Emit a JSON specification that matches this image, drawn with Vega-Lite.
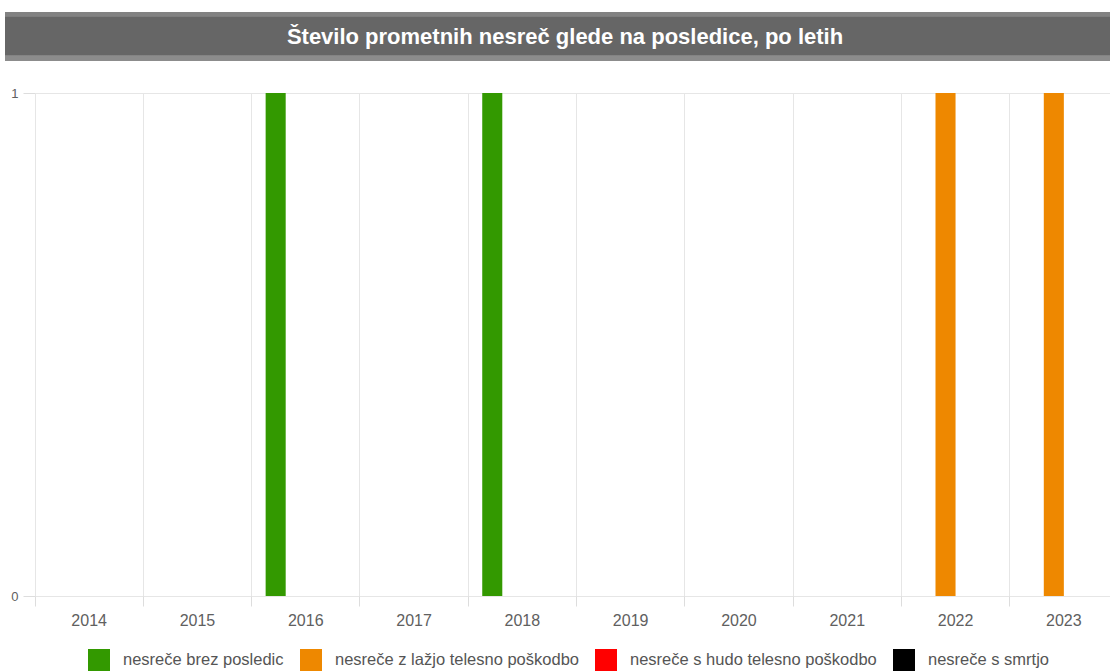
{
  "$schema": "https://vega.github.io/schema/vega-lite/v6.json",
  "padding": {"left": 5, "top": 12, "right": 0, "bottom": 0},
  "background": "white",
  "spacing": 26,
  "config": {"view": {"stroke": null}, "font": "Liberation Sans"},
  "vconcat": [
    {
      "width": 1120,
      "height": 49,
      "data": {"values": [{"t": "Število prometnih nesreč glede na posledice, po letih"}]},
      "layer": [
        {
          "mark": {
            "type": "rect",
            "color": {
              "gradient": "linear",
              "x1": 0, "y1": 0, "x2": 0, "y2": 1,
              "stops": [
                {"offset": 0, "color": "#828282"},
                {"offset": 0.09, "color": "#828282"},
                {"offset": 0.1, "color": "#666666"},
                {"offset": 0.88, "color": "#666666"},
                {"offset": 0.89, "color": "#8c8c8c"},
                {"offset": 1, "color": "#8c8c8c"}
              ]
            }
          },
          "encoding": {}
        },
        {
          "mark": {"type": "text", "color": "white", "fontSize": 22, "fontWeight": "bold", "font": "Liberation Sans", "baseline": "middle", "align": "center"},
          "encoding": {"text": {"field": "t"}}
        }
      ]
    },
    {
      "spacing": 4,
      "hconcat": [
        {
          "width": 1,
          "height": 1,
          "data": {"values": []},
          "mark": "point"
        },
        {
          "width": 1083,
          "height": 503,
          "data": {
            "values": [
              {"leto": "2014", "posledica": "nesreče brez posledic", "stevilo": 0},
              {"leto": "2014", "posledica": "nesreče z lažjo telesno poškodbo", "stevilo": 0},
              {"leto": "2014", "posledica": "nesreče s hudo telesno poškodbo", "stevilo": 0},
              {"leto": "2014", "posledica": "nesreče s smrtjo", "stevilo": 0},
              {"leto": "2015", "posledica": "nesreče brez posledic", "stevilo": 0},
              {"leto": "2015", "posledica": "nesreče z lažjo telesno poškodbo", "stevilo": 0},
              {"leto": "2015", "posledica": "nesreče s hudo telesno poškodbo", "stevilo": 0},
              {"leto": "2015", "posledica": "nesreče s smrtjo", "stevilo": 0},
              {"leto": "2016", "posledica": "nesreče brez posledic", "stevilo": 1},
              {"leto": "2016", "posledica": "nesreče z lažjo telesno poškodbo", "stevilo": 0},
              {"leto": "2016", "posledica": "nesreče s hudo telesno poškodbo", "stevilo": 0},
              {"leto": "2016", "posledica": "nesreče s smrtjo", "stevilo": 0},
              {"leto": "2017", "posledica": "nesreče brez posledic", "stevilo": 0},
              {"leto": "2017", "posledica": "nesreče z lažjo telesno poškodbo", "stevilo": 0},
              {"leto": "2017", "posledica": "nesreče s hudo telesno poškodbo", "stevilo": 0},
              {"leto": "2017", "posledica": "nesreče s smrtjo", "stevilo": 0},
              {"leto": "2018", "posledica": "nesreče brez posledic", "stevilo": 1},
              {"leto": "2018", "posledica": "nesreče z lažjo telesno poškodbo", "stevilo": 0},
              {"leto": "2018", "posledica": "nesreče s hudo telesno poškodbo", "stevilo": 0},
              {"leto": "2018", "posledica": "nesreče s smrtjo", "stevilo": 0},
              {"leto": "2019", "posledica": "nesreče brez posledic", "stevilo": 0},
              {"leto": "2019", "posledica": "nesreče z lažjo telesno poškodbo", "stevilo": 0},
              {"leto": "2019", "posledica": "nesreče s hudo telesno poškodbo", "stevilo": 0},
              {"leto": "2019", "posledica": "nesreče s smrtjo", "stevilo": 0},
              {"leto": "2020", "posledica": "nesreče brez posledic", "stevilo": 0},
              {"leto": "2020", "posledica": "nesreče z lažjo telesno poškodbo", "stevilo": 0},
              {"leto": "2020", "posledica": "nesreče s hudo telesno poškodbo", "stevilo": 0},
              {"leto": "2020", "posledica": "nesreče s smrtjo", "stevilo": 0},
              {"leto": "2021", "posledica": "nesreče brez posledic", "stevilo": 0},
              {"leto": "2021", "posledica": "nesreče z lažjo telesno poškodbo", "stevilo": 0},
              {"leto": "2021", "posledica": "nesreče s hudo telesno poškodbo", "stevilo": 0},
              {"leto": "2021", "posledica": "nesreče s smrtjo", "stevilo": 0},
              {"leto": "2022", "posledica": "nesreče brez posledic", "stevilo": 0},
              {"leto": "2022", "posledica": "nesreče z lažjo telesno poškodbo", "stevilo": 1},
              {"leto": "2022", "posledica": "nesreče s hudo telesno poškodbo", "stevilo": 0},
              {"leto": "2022", "posledica": "nesreče s smrtjo", "stevilo": 0},
              {"leto": "2023", "posledica": "nesreče brez posledic", "stevilo": 0},
              {"leto": "2023", "posledica": "nesreče z lažjo telesno poškodbo", "stevilo": 1},
              {"leto": "2023", "posledica": "nesreče s hudo telesno poškodbo", "stevilo": 0},
              {"leto": "2023", "posledica": "nesreče s smrtjo", "stevilo": 0}
            ]
          },
          "mark": {"type": "bar"},
          "encoding": {
            "x": {
              "field": "leto",
              "type": "ordinal",
              "scale": {"paddingInner": 0, "paddingOuter": 0},
              "axis": {
                "title": null,
                "domain": false,
                "grid": true,
                "gridColor": "#e6e6e6",
                "bandPosition": 0,
                "ticks": true,
                "tickColor": "#dddddd",
                "tickSize": 10,
                "labelAngle": 0,
                "labelFontSize": 16,
                "labelColor": "#606060",
                "labelPadding": 6
              }
            },
            "xOffset": {
              "field": "posledica",
              "type": "nominal",
              "scale": {
                "domain": ["nesreče brez posledic", "nesreče z lažjo telesno poškodbo", "nesreče s hudo telesno poškodbo", "nesreče s smrtjo"],
                "paddingInner": 0,
                "paddingOuter": 0.7
              }
            },
            "y": {
              "field": "stevilo",
              "type": "quantitative",
              "scale": {"domain": [0, 1], "nice": false},
              "axis": {
                "title": null,
                "values": [0, 1],
                "format": "d",
                "domain": false,
                "grid": true,
                "gridColor": "#e6e6e6",
                "tickColor": "#dddddd",
                "tickSize": 12,
                "labelPadding": 5,
                "labelFontSize": 13,
                "labelColor": "#606060"
              }
            },
            "color": {
              "field": "posledica",
              "type": "nominal",
              "scale": {
                "domain": ["nesreče brez posledic", "nesreče z lažjo telesno poškodbo", "nesreče s hudo telesno poškodbo", "nesreče s smrtjo"],
                "range": ["#339900", "#ee8800", "#ff0000", "#000000"]
              },
              "legend": {
                "title": null,
                "orient": "none",
                "legendX": 83,
                "legendY": 637,
                "direction": "horizontal",
                "padding": 0,
                "symbolType": "square",
                "symbolSize": 484,
                "symbolStrokeWidth": 0,
                "symbolOpacity": 1,
                "labelFontSize": 16.5,
                "labelColor": "#555555",
                "labelOffset": 13,
                "columnPadding": 16,
                "labelLimit": 400
              }
            }
          }
        }
      ]
    }
  ]
}
